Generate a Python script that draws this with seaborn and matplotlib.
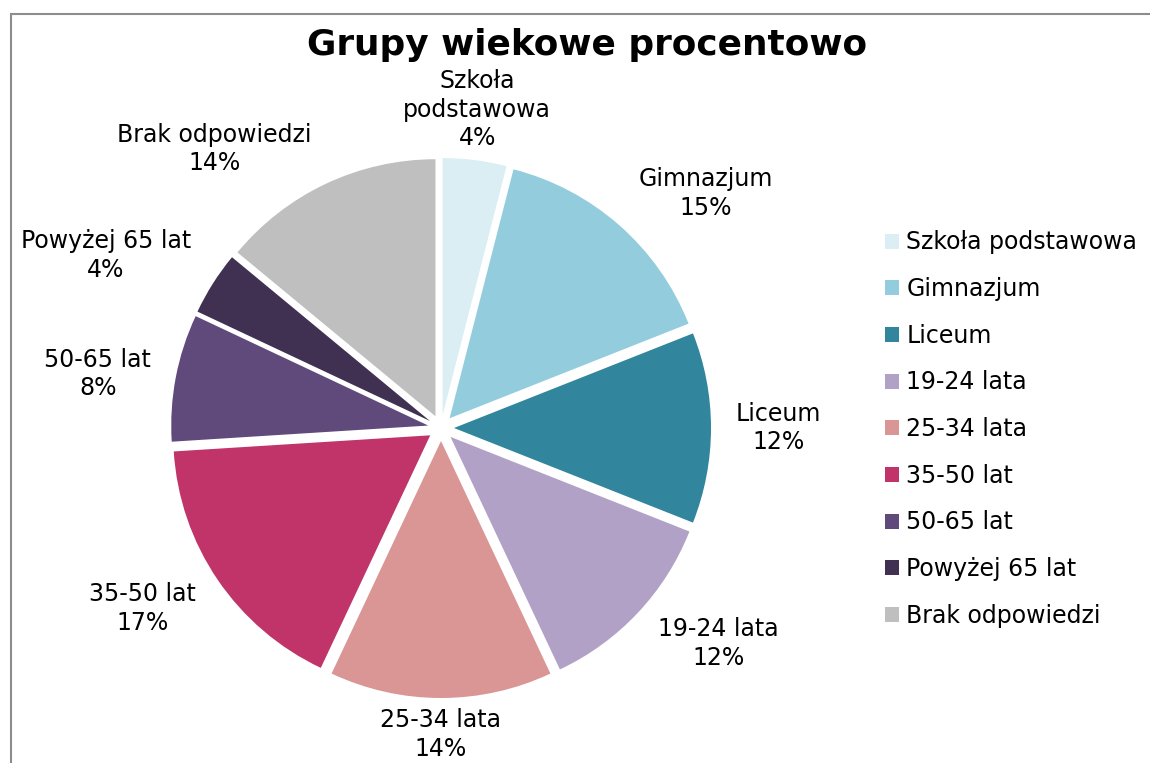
import numpy as np
import matplotlib
matplotlib.use("Agg")
import matplotlib.pyplot as plt
from matplotlib.patches import Rectangle
import seaborn as sns

# ---- data ----
categories = ["Szkoła podstawowa", "Gimnazjum", "Liceum", "19-24 lata", "25-34 lata",
              "35-50 lat", "50-65 lat", "Powyżej 65 lat", "Brak odpowiedzi"]
label_texts = ["Szkoła\npodstawowa", "Gimnazjum", "Liceum", "19-24 lata", "25-34 lata",
               "35-50 lat", "50-65 lat", "Powyżej 65 lat", "Brak odpowiedzi"]
values = [4, 15, 12, 12, 14, 17, 8, 4, 14]
colors = ["#DAEEF3", "#93CDDD", "#31859C", "#B2A1C7", "#D99694",
          "#C0346A", "#604A7B", "#403152", "#BFBFBF"]
title = "Grupy wiekowe procentowo"

sns.set_theme(style="white")
plt.rcParams["font.family"] = ["DejaVu Sans"]

W, H = 1150, 763
fig = plt.figure(figsize=(W / 100, H / 100), dpi=100)
ax = fig.add_axes([0, 0, 1, 1])

cx, cy = 441, H - 428
R = 257
explode_px = 13
palette = sns.color_palette(colors)

wedges, _ = ax.pie(values, colors=palette, startangle=90, counterclock=False,
                   center=(cx, cy), radius=R, explode=[explode_px] * len(values),
                   frame=True, wedgeprops=dict(linewidth=0, edgecolor="none"))
ax.set_xlim(0, W)
ax.set_ylim(0, H)
ax.set_aspect("equal")
ax.axis("off")

total = sum(values)
lab_fs = 17
for w, txt, v in zip(wedges, label_texts, values):
    th = np.deg2rad((w.theta1 + w.theta2) / 2)
    c, s = np.cos(th), np.sin(th)
    wx, wy = w.center
    px = wx + (R + 18) * c + (7 * np.sign(c) if abs(c) > 0.25 else 0)
    py = wy + (R + 18) * s - (8 * np.sign(s) if abs(s) > 0.25 else 0)
    ha = "left" if c > 0.25 else ("right" if c < -0.25 else "center")
    va = "bottom" if s > 0.25 else ("top" if s < -0.25 else "center")
    ax.text(px, py, f"{txt}\n{round(100 * v / total)}%", ha=ha, va=va,
            multialignment="center", fontsize=lab_fs, color="black", linespacing=1.25)

fig.text(587 / W, 1 - 45 / H, title, ha="center", va="center",
         fontsize=25.8, fontweight="bold", color="black")

leg = ax.legend(wedges, categories, loc="center left",
                bbox_to_anchor=(885 / W, 1 - 429 / H), bbox_transform=fig.transFigure,
                frameon=False, fontsize=17, handlelength=0.6, handleheight=0.6,
                handletextpad=0.3, labelspacing=0.96, borderaxespad=0, borderpad=0,
                labelcolor="black")

ax.add_patch(Rectangle((10.5, -50), 3000, (H - 13.5) + 50, fill=False,
                       edgecolor="#8c8c8c", linewidth=1.5))

fig.savefig("out.png", dpi=100, facecolor="white")
